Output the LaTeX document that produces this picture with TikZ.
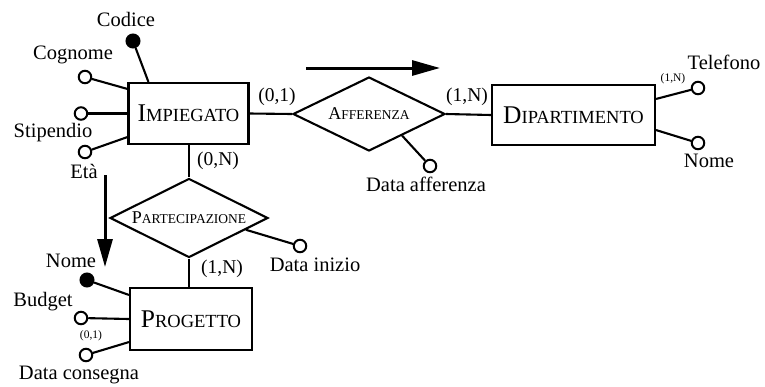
\documentclass[tikz,border=0pt]{standalone}
\usepackage{fontspec}
\setmainfont{Liberation Serif}
\usetikzlibrary{shapes.geometric,arrows.meta,calc}

% small-caps look built by hand: large initial + smaller capitals
\newcommand{\entname}[2]{{\fontsize{25.5}{28}\selectfont #1}{\fontsize{18.5}{20}\selectfont #2}}
\newcommand{\relname}[2]{{\fontsize{18}{20}\selectfont #1}{\fontsize{13.5}{15}\selectfont #2}}

\begin{document}
\begin{tikzpicture}[x=1pt,y=-1pt,
  entity/.style={draw,line width=2.1pt,rectangle,inner sep=0pt},
  relation/.style={draw,line width=2.1pt,diamond,aspect=2,inner sep=0pt},
  attr/.style={draw,circle,line width=2pt,fill=white,minimum size=12.5pt,inner sep=0pt},
  keyattr/.style={attr,fill=black,minimum size=13pt},
  lbl/.style={inner sep=0pt,font=\fontsize{20.5}{22}\selectfont,anchor=base},
  card/.style={inner sep=0pt,font=\fontsize{19.5}{21}\selectfont},
  smallcard/.style={inner sep=0pt,font=\fontsize{11.5}{13}\selectfont},
  link/.style={line width=2.1pt},
  dirarrow/.style={line width=3pt,-{Triangle[length=28pt,width=15pt]}}
]
\useasboundingbox[fill=white] (0,0) rectangle (765,386);

% entities
\node[entity,minimum width=120pt,minimum height=61pt] (imp) at (188.5,113.5) {\entname{I}{MPIEGATO}};
\node[entity,minimum width=163pt,minimum height=60pt] (dip) at (573.5,115) {\entname{D}{IPARTIMENTO}};
\node[entity,minimum width=122pt,minimum height=62pt] (prog) at (191,319) {\entname{P}{ROGETTO}};

% relationships
\node[relation,minimum width=152pt,minimum height=74pt] (aff) at (369,114) {\relname{A}{FFERENZA}};
\node[relation,minimum width=158pt,minimum height=79pt] (par) at (189,218) {\relname{P}{ARTECIPAZIONE}};

% relationship links
\draw[link] (imp.east) -- (aff.west);
\draw[link] (aff.east) -- (dip.west);
\draw[link] (imp.south -| par.north) -- (par.north);
\draw[link] (par.south) -- (par.south |- prog.north);

% cardinalities
\node[card] (c1) at (277,97) {(0,1)};
\node[card] (c2) at (467,97) {(1,N)};
\node[card] (c3) at (218,161) {(0,N)};
\node[card] (c4) at (222,269) {(1,N)};

% attributes of IMPIEGATO
\node[keyattr] (codice) at (133,41) {};
\node[attr] (cognome) at (85,77) {};
\node[attr] (stip) at (81,113.5) {};
\node[attr] (eta) at (85,152) {};
\draw[link] (codice) -- ($(imp.north west)+(21,0)$);
\draw[link] (cognome) -- ($(imp.north west)+(0,7)$);
\draw[link] (stip) -- (imp.west);
\draw[link] (eta) -- ($(imp.south west)+(0,-8)$);
\node[lbl] (tcodice) at (126,26) {Codice};
\node[lbl] (tcognome) at (73,59) {Cognome};
\node[lbl] (tstip) at (53,137) {Stipendio};
\node[lbl] (teta) at (84,178) {Età};

% attributes of DIPARTIMENTO
\node[attr] (tel) at (698,88) {};
\node[attr] (dnome) at (698,143) {};
\draw[link] ($(dip.north east)+(0,15)$) -- (tel);
\draw[link] ($(dip.south east)+(0,-16)$) -- (dnome);
\node[lbl] (ttel) at (724,69) {Telefono};
\node[lbl] (tdnome) at (709,167) {Nome};
\node[smallcard] (c5) at (673,79) {(1,N)};

% attribute of AFFERENZA
\node[attr] (daff) at (430,166) {};
\draw[link] ($(aff.east)!0.57!(aff.south)$) -- (daff);
\node[lbl] (tdaff) at (426,191) {Data afferenza};

% attribute of PARTECIPAZIONE
\node[attr] (dini) at (300,246) {};
\draw[link] ($(par.east)!0.29!(par.south)$) -- (dini);
\node[lbl] (tdini) at (315,271) {Data inizio};

% attributes of PROGETTO
\node[keyattr] (pnome) at (87,280) {};
\node[attr] (budget) at (81,318) {};
\node[attr] (cons) at (86,355) {};
\draw[link] (pnome) -- ($(prog.north west)+(0,8)$);
\draw[link] (budget) -- (prog.west);
\draw[link] (cons) -- ($(prog.south west)+(0,-9)$);
\node[lbl] (tpnome) at (71,267) {Nome};
\node[lbl] (tbudget) at (43,306) {Budget};
\node[lbl] (tcons) at (79,379) {Data consegna};
\node[smallcard] (c6) at (91,336) {(0,1)};

% reading-direction arrows
\coordinate (h1) at (306,68);
\coordinate (h2) at (440,68);
\coordinate (v1) at (105,175);
\coordinate (v2) at (105,267);
\draw[dirarrow] (h1) -- (h2);
\draw[dirarrow] (v1) -- (v2);
\end{tikzpicture}
\end{document}
